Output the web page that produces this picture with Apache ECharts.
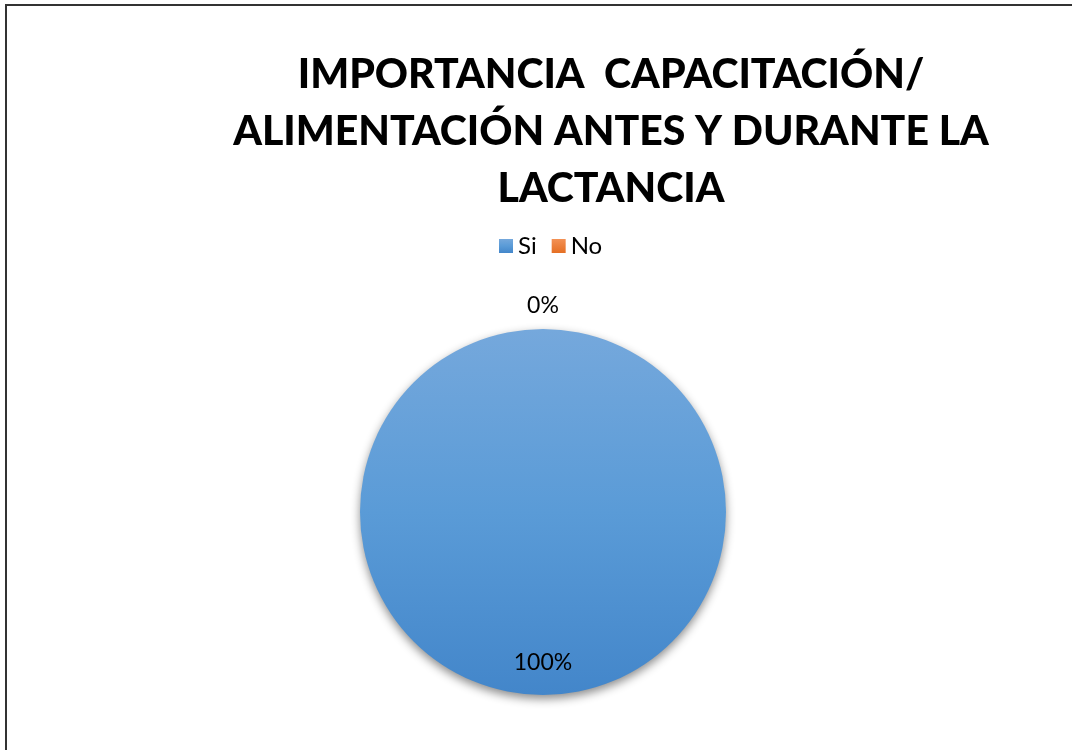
<!DOCTYPE html>
<html>
<head>
<meta charset="utf-8">
<script src="https://cdn.jsdelivr.net/npm/echarts@6/dist/echarts.min.js"></script>
<style>
  html, body { margin: 0; padding: 0; background: #fff; }
  #chart { width: 1072px; height: 750px; }
</style>
</head>
<body>
<div id="chart"></div>
<script>
// chart data
const titleText = "IMPORTANCIA  CAPACITACIÓN/\nALIMENTACIÓN ANTES Y DURANTE LA\nLACTANCIA";
const categories = ["Si", "No"];
const values = [100, 0];

const chart = echarts.init(document.getElementById("chart"));

const fills = [
  new echarts.graphic.LinearGradient(0, 0, 0, 1, [
    { offset: 0, color: "#75a8dc" },
    { offset: 0.5, color: "#5a9bd7" },
    { offset: 1, color: "#4386ca" }
  ]),
  new echarts.graphic.LinearGradient(0, 0, 0, 1, [
    { offset: 0, color: "#f39155" },
    { offset: 1, color: "#e56f24" }
  ])
];
const legendColors = ["#5b9bd5", "#ed7d31"];

const option = {
  animation: false,
  textStyle: { fontFamily: "Lato, 'Open Sans', sans-serif" },
  title: {
    text: titleText,
    left: 606,
    top: 41,
    textAlign: "center",
    textStyle: {
      fontSize: 41,
      fontWeight: 900,
      color: "#000",
      lineHeight: 57,
      fontFamily: "Lato, 'Open Sans', sans-serif"
    }
  },
  legend: {
    data: categories,
    top: 229,
    left: 494,
    itemWidth: 14,
    itemHeight: 14,
    itemGap: 15,
    icon: "rect",
    textStyle: { fontSize: 24, color: "#000" }
  },
  graphic: [{
    type: "rect",
    shape: { x: 6, y: 5, width: 1200, height: 900 },
    style: { fill: "none", stroke: "#333", lineWidth: 2 },
    silent: true
  }],
  series: [{
    type: "pie",
    center: [543, 512],
    radius: 183,
    startAngle: 90,
    clockwise: true,
    data: categories.map((name, i) => ({
      name: name,
      value: values[i],
      itemStyle: {
        color: fills[i],
        shadowBlur: 10,
        shadowOffsetY: 4,
        shadowColor: "rgba(0,0,0,0.45)"
      },
      label: { offset: i === 0 ? [0, 56] : [0, -112] }
    })),
    color: legendColors,
    label: {
      show: true,
      position: "inside",
      formatter: (p) => Math.round(p.percent) + "%",
      fontSize: 23,
      color: "#000"
    },
    labelLine: { show: false },
    emphasis: { disabled: true }
  }]
};

chart.setOption(option);
window.addEventListener("resize", () => chart.resize());
</script>
</body>
</html>
